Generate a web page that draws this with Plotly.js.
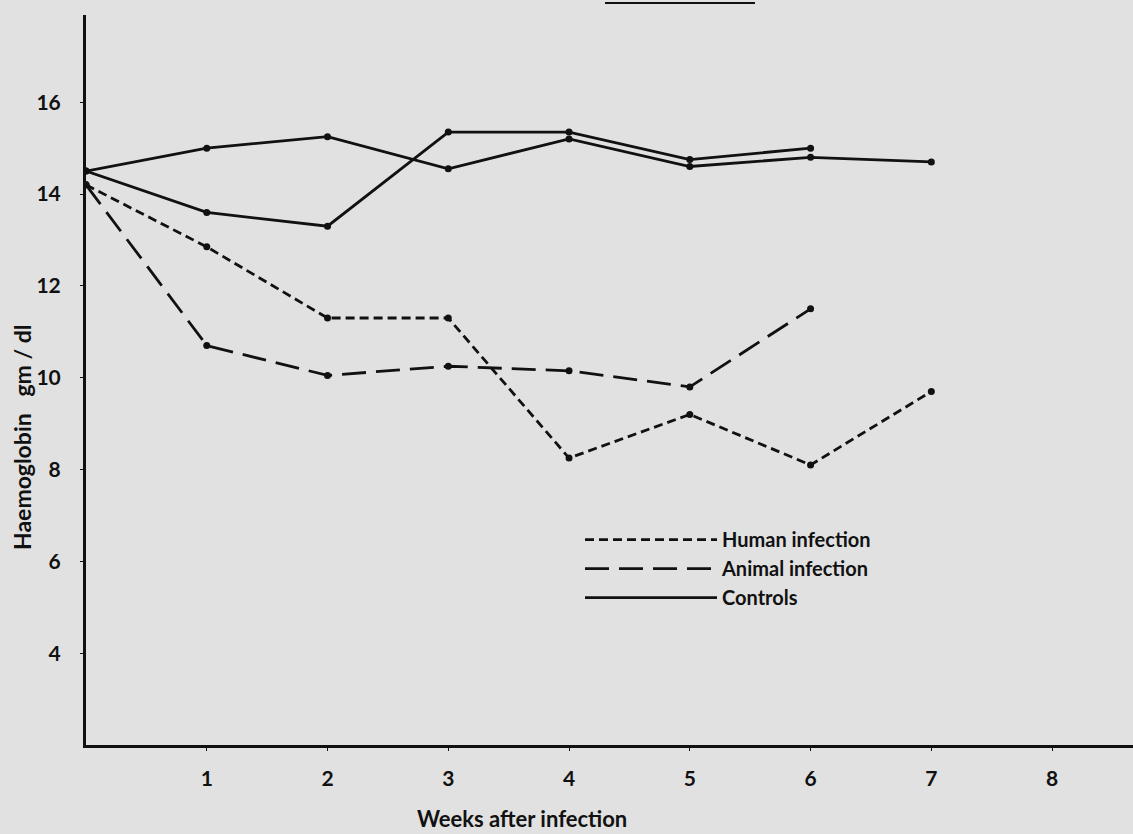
<!DOCTYPE html>
<html>
<head>
<meta charset="utf-8">
<script src="https://cdn.plot.ly/plotly-3.0.1.min.js"></script>
<style>
  html, body { margin: 0; padding: 0; background: #e1e1e1; }
  #chart { width: 1133px; height: 834px; }
</style>
</head>
<body>
<div id="chart"></div>
<script>
// ---- data ----
const weeks = [0, 1, 2, 3, 4, 5, 6, 7];
const humanInfection = [14.2, 12.85, 11.3, 11.3, 8.25, 9.2, 8.1, 9.7];
const animalWeeks = [0, 1, 2, 3, 4, 5, 6];
const animalInfection = [14.2, 10.7, 10.05, 10.25, 10.15, 9.8, 11.5];
const controlsAWeeks = [0, 1, 2, 3, 4, 5, 6, 7];
const controlsA = [14.5, 15.0, 15.25, 14.55, 15.2, 14.6, 14.8, 14.7];
const controlsBWeeks = [0, 1, 2, 3, 4, 5, 6];
const controlsB = [14.5, 13.6, 13.3, 15.35, 15.35, 14.75, 15.0];
const xTicks = [1, 2, 3, 4, 5, 6, 7, 8];
const yTicks = [4, 6, 8, 10, 12, 14, 16];
const seriesNames = ['Human infection', 'Animal infection', 'Controls'];

const FONT = 'Lato, "Open Sans", sans-serif';
const ink = '#111111';
const dot = {size: 7, color: ink};
const LW = 2.8;

const series = [
  {x: weeks, y: humanInfection, name: seriesNames[0], dash: '9px,5px', legend: true},
  {x: animalWeeks, y: animalInfection, name: seriesNames[1], dash: '24px,10px', legend: true},
  {x: controlsAWeeks, y: controlsA, name: seriesNames[2], dash: 'solid', legend: true},
  {x: controlsBWeeks, y: controlsB, name: seriesNames[2], dash: 'solid', legend: false}
];

const traces = [];
series.forEach(function (s) {
  traces.push({x: s.x, y: s.y, name: s.name, mode: 'lines', showlegend: s.legend,
               legendgroup: s.name, line: {color: ink, width: LW, dash: s.dash}});
});
series.forEach(function (s) {
  traces.push({x: s.x, y: s.y, name: s.name, mode: 'markers', showlegend: false,
               legendgroup: s.name, marker: dot});
});

const layout = {
  width: 1133, height: 834,
  paper_bgcolor: '#e1e1e1', plot_bgcolor: '#e1e1e1',
  margin: {l: 86, r: 0, t: 15, b: 89},
  font: {family: FONT, size: 20, color: ink},
  showlegend: true,
  legend: {
    x: (580 - 86) / 1047, y: 0.308, xanchor: 'left', yanchor: 'top',
    bgcolor: 'rgba(0,0,0,0)', itemwidth: 132, tracegroupgap: 0,
    traceorder: 'normal',
    font: {family: FONT, size: 20, color: ink, weight: 'bold'}
  },
  xaxis: {
    range: [0, 8.67], tickvals: xTicks, ticktext: xTicks.map(String),
    showgrid: false, zeroline: false, showline: true, linecolor: ink, linewidth: 3,
    ticks: 'outside', ticklen: 3, tickcolor: ink, tickwidth: 1,
    tickfont: {family: FONT, size: 21, color: ink, weight: 'bold'},
    ticklabelstandoff: 10
  },
  yaxis: {
    range: [2, 17.9], tickvals: yTicks, ticktext: yTicks.map(String),
    showgrid: false, zeroline: false, showline: true, linecolor: ink, linewidth: 3,
    ticks: 'outside', ticklen: 3, tickcolor: ink, tickwidth: 1,
    tickfont: {family: FONT, size: 21, color: ink, weight: 'bold'},
    ticklabelstandoff: 15
  },
  annotations: [
    {text: 'Weeks after infection', xref: 'paper', yref: 'paper',
     x: (522 - 86) / 1047, y: (745 - 818) / 730, xanchor: 'center', yanchor: 'middle',
     showarrow: false, font: {family: FONT, size: 22, color: ink, weight: 'bold'}},
    {text: 'Haemoglobin&nbsp;&nbsp;&nbsp;gm / dl', xref: 'paper', yref: 'paper',
     x: (22 - 86) / 1047, y: (745 - 437) / 730, xanchor: 'center', yanchor: 'middle', textangle: -90,
     showarrow: false, font: {family: FONT, size: 23, color: ink, weight: 'bold'}}
  ],
  shapes: [
    {type: 'line', xref: 'paper', yref: 'paper',
     x0: (605 - 86) / 1047, x1: (755 - 86) / 1047, y0: (745 - 3) / 730, y1: (745 - 3) / 730,
     line: {color: ink, width: 2}}
  ]
};

Plotly.newPlot('chart', traces, layout, {displayModeBar: false, staticPlot: true});
</script>
</body>
</html>
